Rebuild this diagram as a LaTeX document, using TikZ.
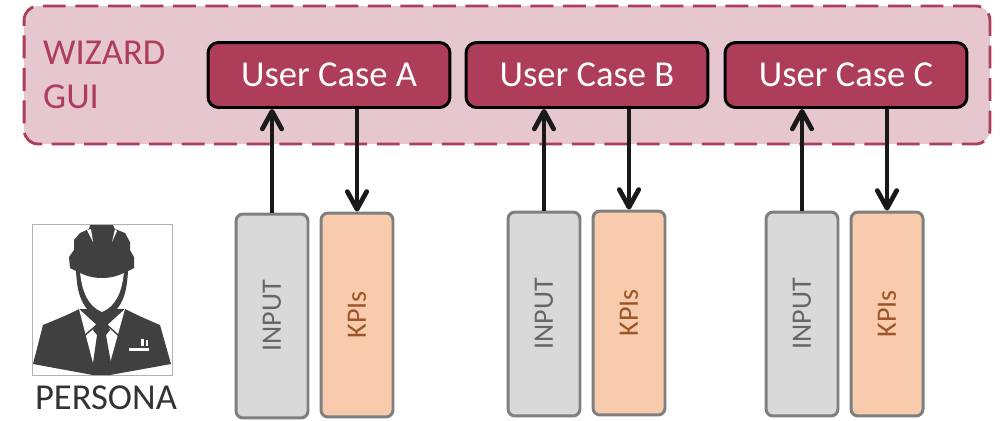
\documentclass[tikz,border=0pt]{standalone}
\usepackage{fontspec}
\setmainfont{Carlito}
\usepackage{xcolor}
\usetikzlibrary{arrows.meta,positioning}

\definecolor{wine}{HTML}{AE3D59}
\definecolor{winelight}{HTML}{E6C7D0}
\definecolor{inputgray}{HTML}{D9D9D9}
\definecolor{kpipeach}{HTML}{F8CBAD}
\definecolor{edgegray}{HTML}{7F7F7F}
\definecolor{icongray}{HTML}{404040}
\definecolor{kpitext}{HTML}{9C5526}

\tikzset{
  guibox/.style = {draw = wine, fill = winelight, dashed, dash pattern = on 13pt off 5.5pt,
    line width = 1.6pt, rounded corners = 8pt, minimum width = 19.32cm, minimum height = 2.76cm},
  casebox/.style = {draw = black, fill = wine, text = white, line width = 1.7pt, rounded corners = 6pt,
    minimum width = 4.84cm, minimum height = 1.3cm, font = \fontsize{20.8}{25}\selectfont},
  inputbox/.style = {draw = edgegray, fill = inputgray, line width = 1.7pt, rounded corners = 4pt,
    minimum width = 1.44cm, minimum height = 4.08cm},
  kpibox/.style = {inputbox, fill = kpipeach},
  boxlabel/.style = {rotate = 90, font = \fontsize{16}{19}\selectfont},
  link/.style = {draw = black!90, line width = 2.7pt,
    -{Straight Barb[length = 10pt, width = 11pt, round]}}
}

\begin{document}
\begin{tikzpicture}[x = 0.02cm, y = -0.02cm]

\useasboundingbox (0,0) rectangle (1000,420);

\node[guibox] (Gui) at (507,75) {};
\node[text = wine, align = left, anchor = west, font = \fontsize{20.8}{25}\selectfont]
  (GuiLabel) at (37,75) {WIZARD\\GUI};

% use cases
\node[casebox] (CaseA) at (329,75) {User Case A};
\node[casebox] (CaseB) at (587,75) {User Case B};
\node[casebox] (CaseC) at (846,75) {User Case C};

% input and kpi columns
\node[inputbox] (InputA) at (272,316) {};
\node[kpibox] (KpiA) at (357,315) {};
\node[inputbox] (InputB) at (544,314) {};
\node[kpibox] (KpiB) at (629,313) {};
\node[inputbox] (InputC) at (802,314) {};
\node[kpibox] (KpiC) at (887,314) {};

\foreach \col in {A,B,C}
{
  \node[boxlabel, text = black!60] (InputText\col) at (Input\col) {INPUT};
  \node[boxlabel, text = kpitext] (KpiText\col) at (Kpi\col) {KPIs};
  \draw[link] (Input\col.north) -- (Input\col.north |- Case\col.south);
  \draw[link] (Kpi\col.north |- Case\col.south) -- (Kpi\col.north);
}

% persona icon
\draw[black!30, line width = 0.5pt] (32,224) rectangle (172,375);
\fill[icongray] (33,364) -- (43,325) .. controls (60,318) and (72,313) .. (79,309)
  -- (125,309) .. controls (135,314) and (148,320) .. (160,325)
  -- (171,364) -- (110,375) -- (93,375) -- cycle;
\fill[white] (79,309) -- (93,363) -- (110,363) -- (125,309) -- (102,330) -- cycle;
\fill[icongray] (76,270) .. controls (77,295) and (82,310) .. (102,321)
  .. controls (122,310) and (127,295) .. (128,270) -- cycle;
\fill[white] (80,272) .. controls (82,292) and (88,306) .. (102,312)
  .. controls (116,306) and (122,292) .. (124,272) -- cycle;
\fill[icongray] (70,268) -- (69,257) -- (74,250) -- (74,240) -- (80,233) -- (89,229) -- (90,225)
  -- (113,225) -- (115,229) -- (125,233) -- (130,242) -- (130,250) -- (134,257) -- (134,268)
  .. controls (122,274) and (115,278) .. (102,278)
  .. controls (89,278) and (82,274) .. (70,268) -- cycle;
\fill[white] (87,230) -- (91,229) -- (93,242) -- cycle;
\fill[white] (117,231) -- (115,229) -- (112,242) -- cycle;
\fill[icongray] (97,323) -- (107,323) -- (110,330) -- (106,335) -- (111,363) -- (102,372)
  -- (93,363) -- (97,335) -- (93,330) -- cycle;
\draw[icongray, line width = 0.8pt] (98,324) -- (84,336) (106,324) -- (119,336);
\fill[white] (129,348) rectangle (149,351);
\fill[white] (141,339) rectangle (144,346);
\fill[white] (146,340) rectangle (148,346);

\node[font = \fontsize{20.8}{25}\selectfont, text = black!80] (Persona) at (106,398) {PERSONA};

\end{tikzpicture}
\end{document}
